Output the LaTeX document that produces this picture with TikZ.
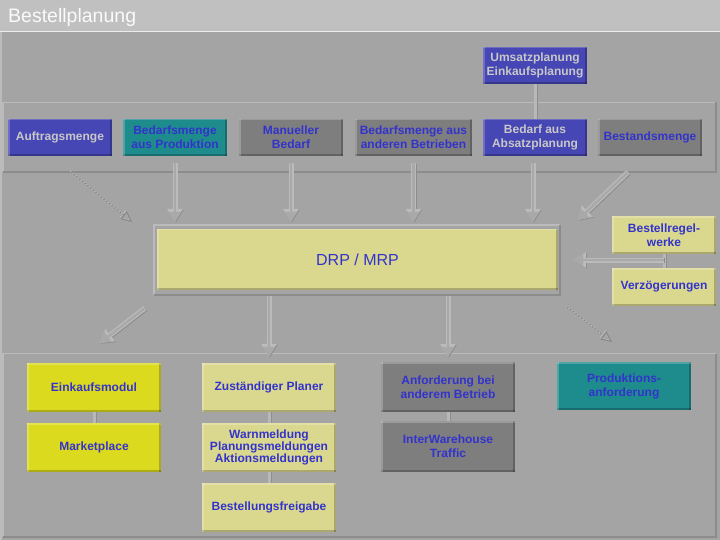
\documentclass[tikz,border=0pt]{standalone}
\usepackage{fontspec}
\setmainfont{Liberation Sans}
\usetikzlibrary{arrows.meta,calc}
\definecolor{bg}{HTML}{A4A4A4}
\definecolor{titlebg}{HTML}{C0C0C0}
\definecolor{boxblue}{HTML}{4646B4}
\definecolor{boxteal}{HTML}{1E8C8C}
\definecolor{boxgray}{HTML}{7E7E7E}
\definecolor{boxpale}{HTML}{DAD88F}
\definecolor{boxyellow}{HTML}{DCDA1E}
\definecolor{txtblue}{HTML}{3333CC}
\definecolor{txtlight}{HTML}{C8C8C8}
\definecolor{edgelight}{HTML}{BBBBBB}
\definecolor{edgedark}{HTML}{8C8C8C}
\definecolor{arrmid}{HTML}{A9A9A9}
\definecolor{connlight}{HTML}{B8B8B8}
\definecolor{dotcol}{HTML}{868686}
\tikzset{
  bevel/.style={path picture={
    \fill[black,opacity=0.22] (path picture bounding box.south west) rectangle ([yshift=2pt]path picture bounding box.south east);
    \fill[black,opacity=0.22] ([xshift=-2pt]path picture bounding box.south east) rectangle (path picture bounding box.north east);
    \fill[white,opacity=0.22] (path picture bounding box.north west) rectangle ([yshift=-1.5pt]path picture bounding box.north east);
    \fill[white,opacity=0.22] (path picture bounding box.north west) rectangle ([xshift=1.5pt]path picture bounding box.south west);
  }},
  box/.style={rectangle, inner sep=0pt, align=center, bevel,
    font=\fontsize{12}{14}\selectfont\bfseries, text=txtblue,
    minimum width=104pt, minimum height=37pt},
  bluebox/.style={box, fill=boxblue, text=txtlight},
  tealbox/.style={box, fill=boxteal},
  graybox/.style={box, fill=boxgray},
  palebox/.style={box, fill=boxpale},
  yelbox/.style={box, fill=boxyellow},
  blockarr/.style={draw=arrmid, line width=2.5pt,
    -{Triangle[length=10pt,width=11pt,fill=arrmid]},
    preaction={draw=edgedark, line width=5pt, transform canvas={xshift=0.8pt,yshift=-0.8pt},
      -{Triangle[length=13pt,width=15pt]}},
    preaction={draw=edgelight, line width=5pt, -{Triangle[length=13pt,width=15pt]}}},
  dotarr/.style={draw=dotcol, line width=1pt, dash pattern=on 1.5pt off 2pt,
    -{Triangle[open,length=11pt,width=10pt]},
    preaction={draw=edgelight, line width=1pt, dash pattern=on 1.5pt off 2pt,
      transform canvas={xshift=-0.9pt,yshift=0.9pt},
      -{Triangle[open,length=11pt,width=10pt]}}},
  conn/.style={draw=connlight, line width=3pt,
    preaction={draw=edgedark!90!bg, line width=3pt, transform canvas={xshift=1.2pt}}},
}
\begin{document}
\begin{tikzpicture}[x=1pt,y=-1pt]
\useasboundingbox (0,0) rectangle (720,540);
% background
\fill[bg] (0,0) rectangle (720,540);
\fill[titlebg] (0,0) rectangle (720,31);
\draw[white!85!gray, line width=1pt] (0,31.5) -- (720,31.5);
\draw[edgelight, line width=1.5pt] (1,32) -- (1,540);
\node[anchor=base west, inner sep=0pt, text=white!96!gray, font=\fontsize{19.5}{22}\selectfont] (title) at (8,23) {Bestellplanung};

% top panel
\draw[edgelight, line width=1.5pt] (3,172) -- (3,102.5) -- (716,102.5);
\draw[edgedark, line width=1.5pt] (3,172) -- (716,172) -- (716,102.5);
% bottom panel
\draw[edgelight, line width=1.5pt] (3,537) -- (3,353.5) -- (716,353.5);
\draw[edgedark, line width=1.5pt] (3,537) -- (716,537) -- (716,353.5);

% top row nodes
\node[bluebox] (um) at (535,65.5) {Umsatzplanung\\Einkaufsplanung};
\node[bluebox] (ba) at (535,137.5) {Bedarf aus\\Absatzplanung};
\draw[conn] (um.south) -- (ba.north);
\node[bluebox] (am) at (60,137.5) {Auftragsmenge};
\node[tealbox] (bp) at (175,137.5) {Bedarfsmenge\\aus Produktion};
\node[graybox] (mb) at (291,137.5) {Manueller\\Bedarf};
\node[graybox, minimum width=117pt] (ab) at (413.5,137.5) {Bedarfsmenge aus\\anderen Betrieben};
\node[graybox] (bm) at (650,137.5) {Bestandsmenge};
\node[bluebox] at (ba) {Bedarf aus\\Absatzplanung};

% DRP / MRP
\node[rectangle, draw=none, fill=bg, minimum width=406pt, minimum height=70pt, inner sep=0pt] (drpf) at (357,260) {};
\draw[edgelight, line width=1.5pt] (drpf.south west) -- (drpf.north west) -- (drpf.north east);
\draw[edgedark, line width=1.5pt] (drpf.south west) -- (drpf.south east) -- (drpf.north east);
\node[box, fill=boxpale, minimum width=401pt, minimum height=61pt, font=\fontsize{16}{18}\selectfont, text=txtblue] (drp) at (357.5,259.5) {DRP / MRP};

% right boxes
\node[palebox] (br) at (664,235) {Bestellregel-\\werke};
\node[palebox, minimum height=38pt] (vz) at (664,287) {Verzögerungen};
\coordinate (brj) at ($(br.south)!0.45!(vz.north)$);
\draw[conn] (br.south) -- (vz.north);
\node[palebox] at (br) {Bestellregel-\\werke};
\node[palebox, minimum height=38pt] at (vz) {Verzögerungen};

% top arrows into DRP
\draw[blockarr, shorten <=7pt, shorten >=3pt] (bp.south) -- (bp.south |- drpf.north);
\draw[blockarr, shorten <=7pt, shorten >=3pt] (mb.south) -- (mb.south |- drpf.north);
\draw[blockarr, shorten <=7pt, shorten >=3pt] (ab.south) -- (ab.south |- drpf.north);
\draw[blockarr, shorten <=7pt, shorten >=3pt] ([xshift=-2pt]ba.south) -- ([xshift=-2pt]ba.south |- drpf.north);
\coordinate (d1s) at (71,172);
\coordinate (d1e) at (132,222);
\draw[dotarr] (d1s) -- (d1e);
\coordinate (d2s) at (628,172);
\coordinate (d2e) at (578,220);
\draw[blockarr] (d2s) -- (d2e);
\draw[blockarr, shorten >=13pt] (brj) -- (brj -| drpf.east);

% bottom nodes
\node[yelbox, minimum width=134pt, minimum height=49pt] (ek) at (94,387.5) {Einkaufsmodul};
\node[yelbox, minimum width=134pt, minimum height=49pt] (mp) at (94,447.5) {Marketplace};
\node[palebox, minimum width=134pt, minimum height=49pt] (zp) at (269,387.5) {Zuständiger Planer};
\node[palebox, minimum width=134pt, minimum height=49pt, font=\fontsize{12}{11.7}\selectfont\bfseries] (wm) at (269,447.5) {Warnmeldung\\Planungsmeldungen\\Aktionsmeldungen};
\node[palebox, minimum width=134pt, minimum height=49pt] (bf) at (269,507.5) {Bestellungsfreigabe};
\node[graybox, minimum width=134pt, minimum height=50pt] (an) at (448,387) {Anforderung bei\\anderem Betrieb};
\node[graybox, minimum width=134pt, minimum height=51pt] (iw) at (448,446.5) {InterWarehouse\\Traffic};
\node[tealbox, minimum width=134pt, minimum height=48pt] (pa) at (624,386) {Produktions-\\anforderung};
\draw[conn] (ek.south) -- (mp.north);
\draw[conn] (zp.south) -- (wm.north);
\draw[conn] (wm.south) -- (bf.north);
\draw[conn] (an.south) -- (iw.north);

% arrows out of DRP
\draw[blockarr, shorten <=1pt, shorten >=6pt] (drpf.south -| zp.north) -- (zp.north);
\draw[blockarr, shorten <=1pt, shorten >=5pt] (drpf.south -| an.north) -- (an.north);
\coordinate (d3s) at (145,308);
\coordinate (d3e) at (100,343);
\draw[blockarr] (d3s) -- (d3e);
\coordinate (d4s) at (567,307);
\coordinate (d4e) at (612,342);
\draw[dotarr] (d4s) -- (d4e);
\end{tikzpicture}
\end{document}
